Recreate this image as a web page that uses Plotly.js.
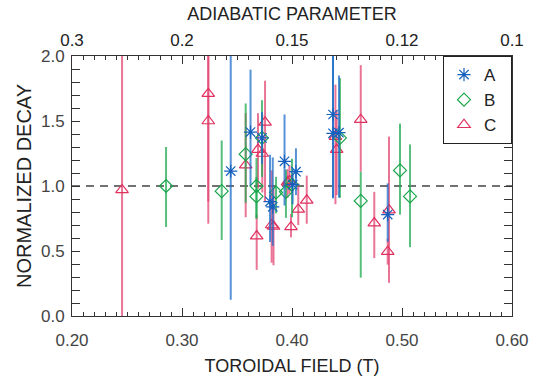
<!DOCTYPE html>
<html>
<head>
<meta charset="utf-8">
<script src="https://cdn.plot.ly/plotly-3.0.1.min.js"></script>
<style>html,body{margin:0;padding:0;background:#fff;}#chart{width:539px;height:382px;}</style>
</head>
<body>
<div id="chart"></div>
<script>
// Series A
const aField = [0.3443,0.3623,0.3727,0.3800,0.3825,0.3932,0.4006,0.4036,0.4373,0.4373,0.4427,0.4870];
const aDecay = [1.115,1.415,1.37,0.88,0.84,1.19,1.01,1.11,1.55,1.405,1.41,0.78];
const aErrUp = [0.90,0.48,0.20,0.36,0.38,0.36,0.12,0.18,0.60,0.60,0.44,0.24];
const aErrDn = [0.99,0.41,0.20,0.31,0.30,0.34,0.15,0.18,0.64,0.50,0.50,0.21];
// Series B
const bField = [0.2855,0.3361,0.3579,0.3677,0.3677,0.3727,0.3855,0.3945,0.4000,0.4436,0.4625,0.4982,0.5073];
const bDecay = [1.00,0.96,1.245,1.00,0.92,1.37,0.95,0.955,1.01,1.37,0.885,1.12,0.92];
const bErrUp = [0.30,0.39,0.39,0.215,0.15,0.29,0.12,0.17,0.20,0.46,0.225,0.36,0.40];
const bErrDn = [0.315,0.375,0.375,0.25,0.17,0.30,0.16,0.20,0.25,0.46,0.59,0.34,0.39];
// Series C
const cField = [0.2455,0.3239,0.3239,0.3579,0.3691,0.3679,0.3730,0.3755,0.3815,0.3832,0.3959,0.3977,0.3991,0.4057,0.4134,0.4395,0.4406,0.4625,0.4748,0.4882,0.4870];
const cDecay = [0.97,1.71,1.50,1.16,1.28,0.615,1.25,1.49,0.70,0.69,1.03,1.04,0.685,0.82,0.89,1.38,1.28,1.51,0.715,0.815,0.495];
const cErrUp = [1.03,0.80,0.80,0.40,0.28,0.165,0.30,0.32,0.42,0.30,0.10,0.12,0.10,0.20,0.19,0.40,0.30,0.42,0.24,0.565,0.10];
const cErrDn = [0.97,0.83,0.79,0.40,0.30,0.26,0.30,0.61,0.29,0.30,0.12,0.10,0.08,0.12,0.18,0.52,0.35,0.40,0.27,0.56,0.10];

const xTicks = [0.2,0.3,0.4,0.5,0.6];
const topTickText = ['0.3','0.2','0.15','0.12','0.1'];

const FONT = 'Liberation Sans, Arial, Helvetica, sans-serif';

function series(name, x, y, up, dn, mcol, ecol, symbol, size) {
  return {
    type:'scatter', mode:'markers', name:name, x:x, y:y,
    marker:{symbol:symbol, size:size, color:mcol, line:{color:mcol, width:1.2}},
    error_y:{type:'data', symmetric:false, array:up, arrayminus:dn, color:ecol, thickness:2, width:0},
    cliponaxis:true
  };
}

const traces = [
  series('C\u00a0\u00a0', cField, cDecay, cErrUp, cErrDn, '#e0305e', 'rgba(226,70,115,0.75)', 'triangle-up-open', 11),
  series('B\u00a0\u00a0', bField, bDecay, bErrUp, bErrDn, '#17a54a', 'rgba(30,170,80,0.75)', 'diamond-open', 10),
  series('A\u00a0\u00a0', aField, aDecay, aErrUp, aErrDn, '#1560bd', 'rgba(30,110,200,0.75)', 'asterisk-open', 11),
  {type:'scatter', mode:'markers', x:[0.2], y:[-5], xaxis:'x2', showlegend:false, hoverinfo:'skip', marker:{opacity:0}}
];

const layout = {
  width:539, height:382,
  margin:{l:72, r:27, t:56, b:66},
  paper_bgcolor:'#fff', plot_bgcolor:'#fff',
  font:{family:FONT, color:'#333'},
  showlegend:true,
  legend:{x:1, xanchor:'right', y:1, yanchor:'top', bordercolor:'#222', borderwidth:1,
          bgcolor:'#fff', font:{size:17, color:'#222', family:FONT}, traceorder:'reversed',
          itemwidth:30, tracegroupgap:0},
  xaxis:{range:[0.2,0.6], tickvals:xTicks, tickformat:'.2f', ticks:'inside', ticklen:8, tickcolor:'#333',
         showgrid:false, zeroline:false, showline:true, linecolor:'#333', linewidth:1,
         tickfont:{size:17, color:'#444'}, ticklabelstandoff:9,
         minor:{dtick:0.01, ticks:'inside', ticklen:4, tickcolor:'#333', showgrid:false},
         title:{text:'TOROIDAL FIELD (T)', font:{size:18, color:'#222'}, standoff:9}},
  xaxis2:{overlaying:'x', side:'top', range:[0.2,0.6], tickvals:xTicks, ticktext:topTickText,
          ticks:'inside', ticklen:8, tickcolor:'#333', showgrid:false, zeroline:false,
          showline:true, linecolor:'#333', linewidth:1, tickfont:{size:17, color:'#222'}, ticklabelstandoff:2,
          minor:{dtick:0.01, ticks:'inside', ticklen:4, tickcolor:'#333', showgrid:false},
          title:{text:'ADIABATIC PARAMETER', font:{size:18, color:'#222'}, standoff:5}},
  yaxis:{range:[0,2], tickvals:[0,0.5,1,1.5,2], tickformat:'.1f', ticks:'inside', ticklen:8, tickcolor:'#333',
         showgrid:false, zeroline:false, showline:true, linecolor:'#333', linewidth:1, mirror:'allticks',
         tickfont:{size:17, color:'#444'}, ticklabelstandoff:3,
         minor:{dtick:0.1, ticks:'inside', ticklen:4, tickcolor:'#333', showgrid:false},
         title:{text:'NORMALIZED DECAY', font:{size:20, color:'#222'}, standoff:3}},
  shapes:[{type:'line', xref:'paper', yref:'y', x0:0, x1:1, y0:1, y1:1,
           line:{color:'#444', width:1.3, dash:'8px,6px'}, layer:'below'}]
};

Plotly.newPlot('chart', traces, layout, {staticPlot:true, displayModeBar:false});
</script>
</body>
</html>
